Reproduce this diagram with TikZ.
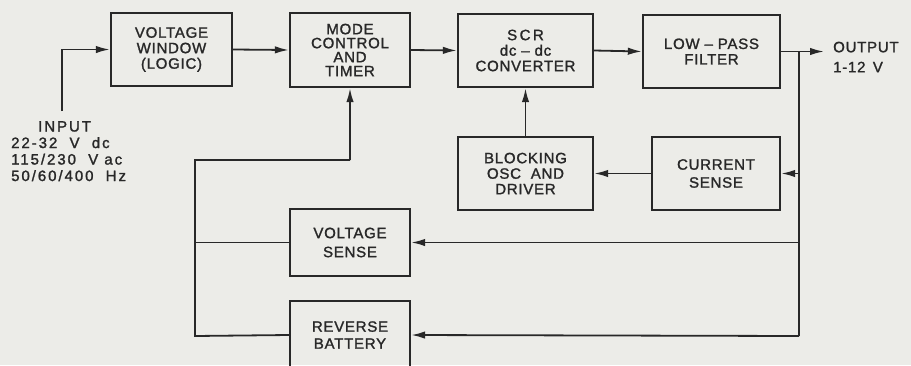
\documentclass[tikz,border=0pt]{standalone}
\usepackage{fontspec}
\setmainfont[LetterSpace=5, FakeBold=1.5]{Liberation Sans}
\usetikzlibrary{arrows.meta}
\definecolor{bgcol}{RGB}{236,236,232}
\definecolor{ink}{RGB}{40,40,40}
\tikzset{
  blk/.style={draw=ink, line width=2.4pt, fill=none, align=center, inner sep=0pt,
     text=ink, font=\fontsize{15}{15.5}\selectfont},
  wire/.style={draw=ink, line width=1.8pt},
  arr/.style={wire, -{Latex[length=14pt,width=7.5pt]}},
  lbl/.style={text=ink, inner sep=0pt, font=\fontsize{15}{16.5}\selectfont}
}
\begin{document}
\begin{tikzpicture}[x=1pt,y=-1pt]
\clip (0,0) rectangle (911,365);
\fill[bgcol] (0,0) rectangle (911,365);
% boxes
\node[blk, minimum width=121pt, minimum height=73pt] (vw) at (171.5,49.5) {VOLTAGE\\WINDOW\\(LOGIC)};
\node[blk, minimum width=120pt, minimum height=74pt, font=\fontsize{15}{14}\selectfont] (mct) at (350,50) {MODE\\CONTROL\\AND\\TIMER};
\node[blk, minimum width=135pt, minimum height=73pt] (scr) at (525.5,50.5) {S\,C\,R\\dc -- dc\\CONVERTER};
\node[blk, minimum width=137pt, minimum height=73pt] (lpf) at (711.5,51.5) {LOW -- PASS\\FILTER};
\node[blk, minimum width=135pt, minimum height=73pt] (bos) at (525.5,173.5) {BLOCKING\\OSC \ AND\\DRIVER};
\node[blk, minimum width=128pt, minimum height=73pt, font=\fontsize{15}{18}\selectfont] (cs) at (716,173.5) {CURRENT\\SENSE};
\node[blk, minimum width=120pt, minimum height=67pt, font=\fontsize{15}{19}\selectfont] (vs) at (350,242.5) {VOLTAGE\\SENSE};
\node[blk, minimum width=120pt, minimum height=68pt, font=\fontsize{15}{17}\selectfont] (rb) at (350,335) {REVERSE\\BATTERY};
% labels
\node[lbl, align=left, anchor=north west, font=\fontsize{15}{16.5}\selectfont\addfontfeature{LetterSpace=13}] (inlbl) at (11,121)
  {\hspace*{27pt}INPUT\\22-32 \ V \ dc\\115/230 \ V ac\\50/60/400 \ Hz};
\node[lbl, align=left, anchor=west, font=\fontsize{15}{20}\selectfont] (outlbl) at (833,57) {OUTPUT\\1-12 \,V};
% coordinates
\coordinate (inp) at (62,111);
\coordinate (out) at (824,51.5);
\coordinate (tap) at (799,51.5);
\coordinate (bot) at (799,336);
\coordinate (lb) at (195,336);
\coordinate (lt) at (195,160);
\coordinate (mt) at (350,160);
% connectors
\draw[arr] (inp) |- (vw.west);
\draw[arr] (vw.east) -- (mct.west);
\draw[arr] (mct.east) -- (scr.west);
\draw[arr] (scr.east) -- (lpf.west);
\draw[arr] (lpf.east) -- (out);
\draw[wire] (tap) -- (bot);
\draw[arr] (tap |- cs.east) -- (cs.east);
\draw[arr] (cs.west) -- (bos.east);
\draw[arr] (bos.north) -- (scr.south);
\draw[arr] (tap |- vs.east) -- (vs.east);
\draw[arr] (bot) -- (rb.east);
\draw[wire] (rb.west) -- (lb) -- (lt) -- (mt);
\draw[arr] (mt) -- (mct.south);
\draw[wire] (vs.west) -- (lt |- vs.west);
\end{tikzpicture}
\end{document}
